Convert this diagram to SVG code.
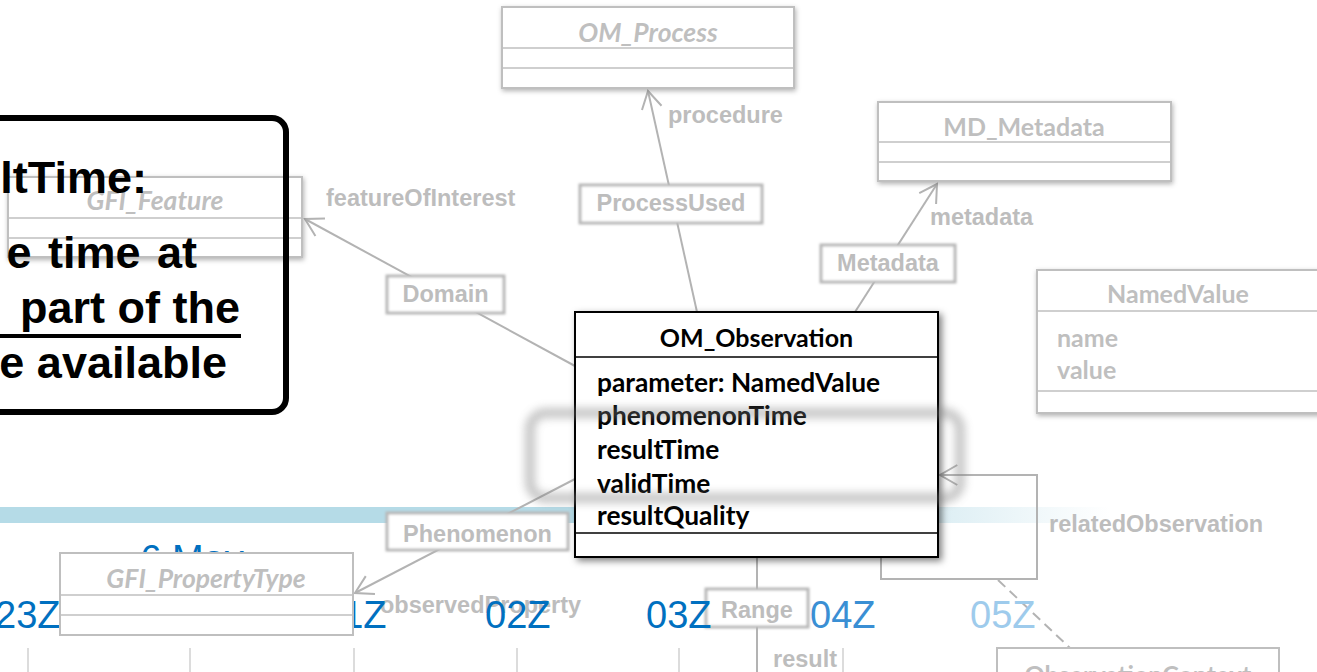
<svg xmlns="http://www.w3.org/2000/svg" width="1317" height="672" viewBox="0 0 1317 672">
<defs>
<linearGradient id="bandGrad" gradientUnits="userSpaceOnUse" x1="0" y1="0" x2="1110" y2="0">
<stop offset="0" stop-color="#b5dbe7"/>
<stop offset="0.76" stop-color="#b5dbe7"/>
<stop offset="0.85" stop-color="#b5dbe7" stop-opacity="0.45"/>
<stop offset="1" stop-color="#b5dbe7" stop-opacity="0"/>
</linearGradient>
<filter id="shadowGrey" x="-10%" y="-20%" width="120%" height="140%">
<feDropShadow dx="1" dy="2" stdDeviation="2.5" flood-color="#000" flood-opacity="0.3"/>
</filter>
<filter id="shadowBlack" x="-10%" y="-10%" width="120%" height="120%">
<feDropShadow dx="3" dy="3" stdDeviation="3.5" flood-color="#000" flood-opacity="0.5"/>
</filter>
<filter id="soft" x="-10%" y="-20%" width="120%" height="140%"><feGaussianBlur stdDeviation="1.3"/></filter>
<filter id="glow" x="-10%" y="-40%" width="120%" height="180%"><feGaussianBlur stdDeviation="4.5"/></filter>
<marker id="arrow" viewBox="-22 -12 24 24" refX="0" refY="0" markerWidth="24" markerHeight="24" markerUnits="userSpaceOnUse" orient="auto">
<path d="M-17.3,-10 L0,0 L-17.3,10" fill="none" stroke="#b3b3b3" stroke-width="2"/>
</marker>
</defs>
<style>
.box{fill:#fff;stroke:#bfbfbf;stroke-width:2}
.div{stroke:#bfbfbf;stroke-width:1.5}
.uml{font-family:Lato,"Open Sans",sans-serif;font-weight:bold;font-size:25px}
.attr{font-size:26.3px}
.gt{fill:#bfbfbf}
.it{font-style:italic;font-size:26.5px}
.lbl{font-family:"Liberation Sans",Arial,sans-serif;font-weight:bold;font-size:23.5px;fill:#bdbdbd}
.lblbox{fill:#fff;stroke:#b8b8b8;stroke-width:3}
.conn{fill:none;stroke:#b3b3b3;stroke-width:2}
.tl{font-family:"Liberation Sans",Arial,sans-serif;font-size:38px;fill:#0070c0}
.tick{stroke:#d0d0d0;stroke-width:1.5}
.call{font-family:"Liberation Sans",Arial,sans-serif;font-weight:bold;font-size:45px;fill:#000}
</style>

<rect id="timeline-band" x="0" y="507" width="1110" height="16" fill="url(#bandGrad)"/>

<g id="connectors">
<path class="conn" d="M697,312 L648,91" marker-end="url(#arrow)"/>
<path class="conn" d="M575,366 L305,219" marker-end="url(#arrow)"/>
<path class="conn" d="M855,312 L937,184" marker-end="url(#arrow)"/>
<path class="conn" d="M575,479 L355,593" marker-end="url(#arrow)"/>
<path class="conn" d="M757,557 L757,672"/>
<path class="conn" d="M881,557 L881,579 L1037,579 L1037,475 L940,475" marker-end="url(#arrow)"/>
<path class="conn" d="M998,580 L1070,648" stroke-dasharray="10,6"/>
</g>

<g id="connector-labels">
<g id="lbl-domain"><rect class="lblbox" filter="url(#soft)" x="387" y="276" width="117" height="37"/><text class="lbl" x="445.5" y="302" text-anchor="middle">Domain</text></g>
<g id="lbl-processused"><rect class="lblbox" filter="url(#soft)" x="580" y="185" width="182" height="38"/><text class="lbl" x="671" y="211" text-anchor="middle">ProcessUsed</text></g>
<g id="lbl-metadata"><rect class="lblbox" filter="url(#soft)" x="821" y="245" width="134" height="37"/><text class="lbl" x="888" y="271" text-anchor="middle">Metadata</text></g>
<g id="lbl-phenomenon"><rect class="lblbox" filter="url(#soft)" x="387" y="513" width="181" height="37"/><text class="lbl" x="477.5" y="542" text-anchor="middle">Phenomenon</text></g>
<g id="lbl-range"><rect class="lblbox" filter="url(#soft)" x="706" y="589" width="102" height="38"/><text class="lbl" x="757" y="618" text-anchor="middle">Range</text></g>
<text class="lbl" x="668" y="123">procedure</text>
<text class="lbl" x="326" y="206">featureOfInterest</text>
<text class="lbl" x="930" y="225">metadata</text>
<text class="lbl" x="380" y="613">observedProperty</text>
<text class="lbl" x="773" y="667">result</text>
<text class="lbl" x="1049" y="532">relatedObservation</text>
</g>

<g id="timeline">
<text class="tl" x="192" y="572" text-anchor="middle">6 May</text>
<text class="tl" x="-5" y="628">23Z</text>
<text class="tl" x="321" y="628">01Z</text>
<text class="tl" x="485" y="628">02Z</text>
<text class="tl" x="646" y="628">03Z</text>
<text class="tl" x="810" y="628" style="fill:#3a8fd4">04Z</text>
<text class="tl" x="970" y="628" style="fill:#9ecbec">05Z</text>
<line class="tick" x1="28" y1="648" x2="28" y2="672"/>
<line class="tick" x1="190" y1="648" x2="190" y2="672"/>
<line class="tick" x1="354" y1="648" x2="354" y2="672"/>
<line class="tick" x1="517" y1="648" x2="517" y2="672"/>
<line class="tick" x1="679" y1="648" x2="679" y2="672"/>
<line class="tick" x1="843" y1="648" x2="843" y2="672"/>
</g>

<g id="OM_Process">
<rect class="box" filter="url(#shadowGrey)" x="502" y="7" width="292" height="81"/>
<line class="div" x1="502" y1="48" x2="794" y2="48"/><line class="div" x1="502" y1="68" x2="794" y2="68"/>
<text class="uml gt it" x="648" y="42" text-anchor="middle">OM_Process</text>
</g>

<g id="MD_Metadata">
<rect class="box" filter="url(#shadowGrey)" x="878" y="102" width="293" height="79"/>
<line class="div" x1="878" y1="142" x2="1171" y2="142"/><line class="div" x1="878" y1="162" x2="1171" y2="162"/>
<text class="uml gt" x="1024" y="136" text-anchor="middle">MD_Metadata</text>
</g>

<g id="NamedValue">
<rect class="box" filter="url(#shadowGrey)" x="1037" y="270" width="284" height="143"/>
<line class="div" x1="1037" y1="311" x2="1321" y2="311"/><line class="div" x1="1037" y1="391" x2="1321" y2="391"/>
<text class="uml gt" x="1178" y="303" text-anchor="middle">NamedValue</text>
<text class="uml gt" x="1057" y="347">name</text>
<text class="uml gt" x="1057" y="379">value</text>
</g>

<g id="GFI_Feature">
<rect class="box" filter="url(#shadowGrey)" x="8" y="177" width="294" height="80"/>
<line class="div" x1="8" y1="218" x2="302" y2="218"/><line class="div" x1="8" y1="238" x2="302" y2="238"/>
<text class="uml gt it" x="155" y="210" text-anchor="middle">GFI_Feature</text>
</g>

<g id="GFI_PropertyType">
<rect class="box" x="60" y="553" width="293" height="82"/>
<line class="div" x1="60" y1="595" x2="353" y2="595"/><line class="div" x1="60" y1="615" x2="353" y2="615"/>
<text class="uml gt it" x="206" y="588" text-anchor="middle">GFI_PropertyType</text>
</g>

<g id="ObservationContext">
<rect class="box" x="997" y="648" width="282" height="60"/>
<text class="uml gt" x="1138" y="684" text-anchor="middle">ObservationContext</text>
</g>

<g id="OM_Observation">
<rect x="575" y="312" width="363" height="245" fill="#fff" stroke="#000" stroke-width="2" filter="url(#shadowBlack)"/>
<line x1="575" y1="357" x2="938" y2="357" stroke="#000" stroke-width="1.5"/>
<line x1="575" y1="533" x2="938" y2="533" stroke="#000" stroke-width="1.5"/>
<text class="uml" x="756.5" y="347" text-anchor="middle" fill="#000">OM_Observation</text>
<text class="uml attr" x="597" y="392" fill="#000">parameter: NamedValue</text>
<text class="uml attr" x="597" y="425" fill="#000">phenomenonTime</text>
<text class="uml attr" x="597" y="459" fill="#000">resultTime</text>
<text class="uml attr" x="597" y="493" fill="#000">validTime</text>
<text class="uml attr" x="597" y="525" fill="#000">resultQuality</text>
</g>

<rect id="highlight" x="530" y="413" width="430" height="85" rx="16" fill="none" stroke="#808080" stroke-width="10" opacity="0.45" filter="url(#glow)"/>

<g id="callout">
<rect x="-20" y="118" width="306" height="294" rx="14" fill="none" stroke="#000" stroke-width="6"/>
<text class="call" x="147" y="193" text-anchor="end">ltTime:</text>
<text class="call" x="197" y="268" text-anchor="end" word-spacing="4">e time at</text>
<text class="call" x="240" y="323" text-anchor="end">part of the</text>
<rect x="0" y="334" width="241" height="4" fill="#000"/>
<text class="call" x="227" y="378" text-anchor="end">e available</text>
</g>
</svg>
